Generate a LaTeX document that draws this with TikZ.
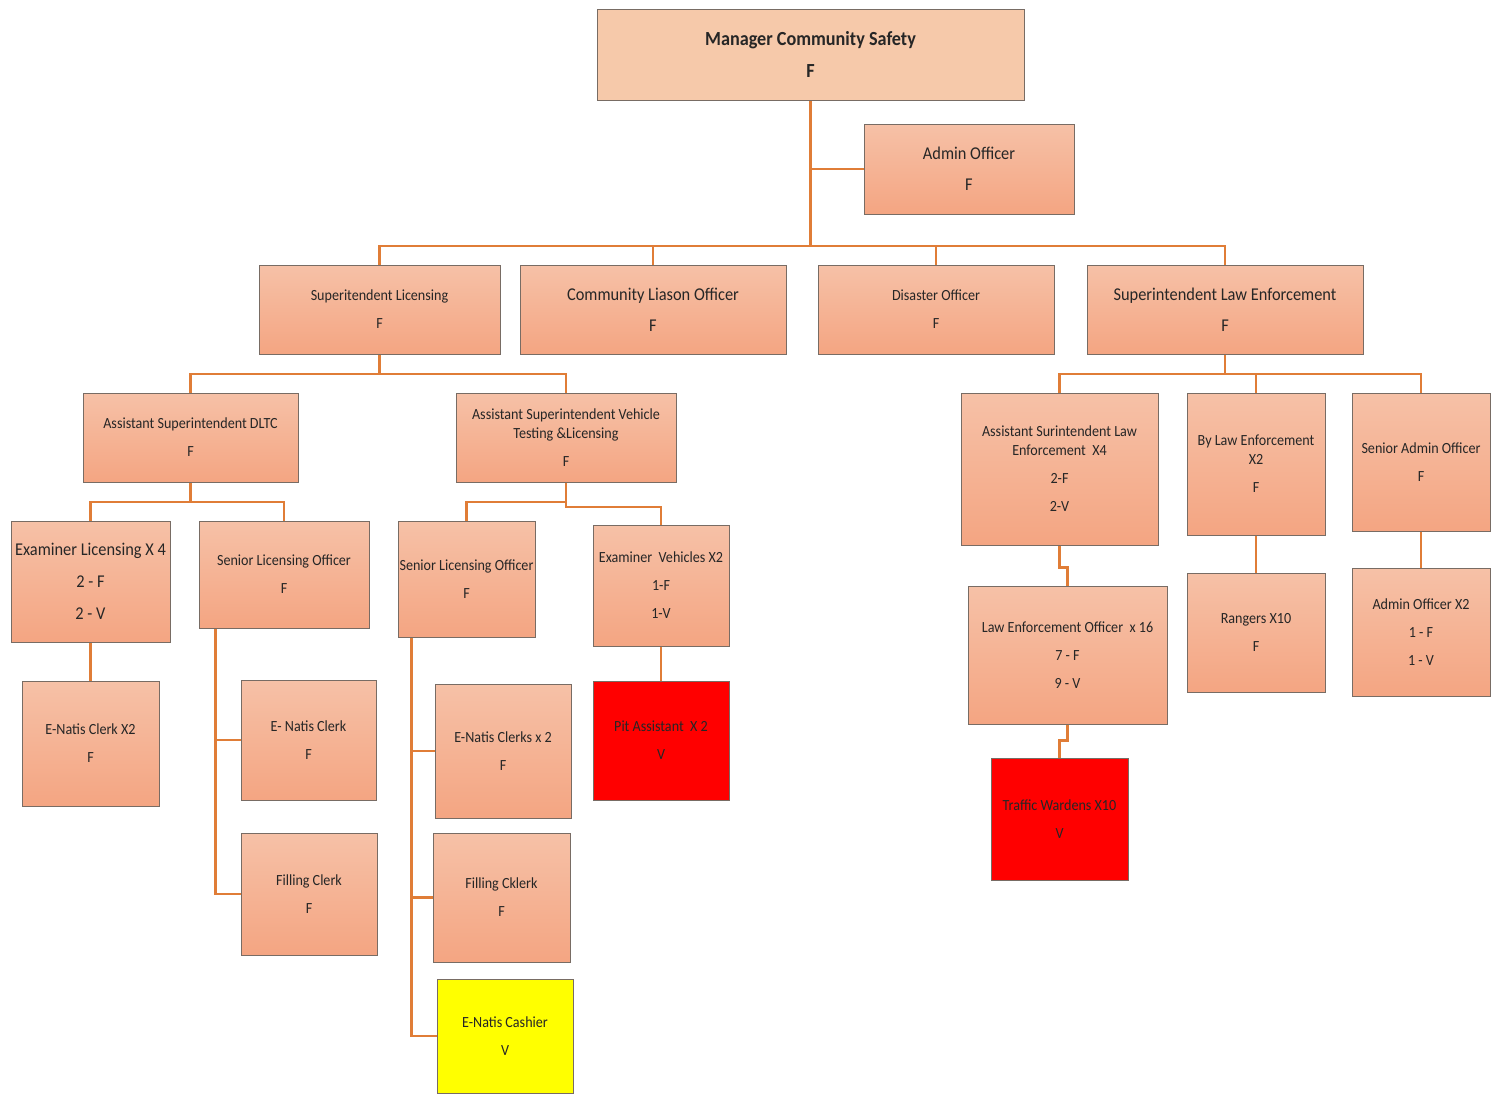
\documentclass[tikz,border=0pt]{standalone}
\usepackage{fontspec}
\setmainfont{Carlito}[FakeStretch=0.91]
\definecolor{boxtop}{RGB}{246,193,167}
\definecolor{boxbot}{RGB}{244,165,130}
\definecolor{mgrfill}{RGB}{246,201,170}
\definecolor{boxline}{RGB}{120,108,100}
\definecolor{linkcol}{RGB}{224,125,55}
\definecolor{txt}{RGB}{38,38,38}
\tikzset{
    post/.style={draw=boxline, line width=1pt, top color=boxtop, bottom color=boxbot,
        align=center, text=txt, inner sep=1pt, font=\fontsize{15.5}{20}\selectfont},
    bigpost/.style={post, font=\fontsize{18}{22}\selectfont},
    redpost/.style={post, fill=red, top color=red, bottom color=red},
    yelpost/.style={post, fill=yellow, top color=yellow, bottom color=yellow},
    boxsize/.style 2 args={minimum width=#1pt, minimum height=#2pt},
    link/.style={draw=linkcol, line width=2.2pt}
}
\begin{document}
\begin{tikzpicture}[x=1pt, y=-1pt]
    \useasboundingbox (0,0) rectangle (1491,1095);
    \node[post, fill=mgrfill, top color=mgrfill, bottom color=mgrfill, boxsize={427}{91},
        font=\fontsize{20}{22}\selectfont\bfseries] (mgr) at (810.5,54.5) {Manager Community Safety\\[10pt]F};
    \node[bigpost, boxsize={210}{90}] (admin) at (969,169) {Admin Officer\\[9pt]F};

    \node[post, boxsize={241}{89}] (supLic) at (379.5,309.5) {Superitendent Licensing\\[8pt]F};
    \node[bigpost, boxsize={266}{89}] (cla) at (653,309.5) {Community Liason Officer\\[9pt]F};
    \node[post, boxsize={236}{89}] (dis) at (936,309.5) {Disaster Officer\\[8pt]F};
    \node[bigpost, boxsize={276}{89}] (supLaw) at (1225,309.5) {Superintendent Law Enforcement\\[9pt]F};

    \node[post, boxsize={215}{89}] (asDLTC) at (190.5,437.5) {Assistant Superintendent DLTC\\[8pt]F};
    \node[post, boxsize={220}{89}] (asVTL) at (566,437.5) {Assistant Superintendent Vehicle\\[-1pt]Testing \&Licensing\\[8pt]F};

    \node[bigpost, boxsize={159}{121}] (exLic) at (90.5,581.5) {Examiner Licensing X 4\\[10pt]2 - F\\[10pt]2 - V};
    \node[post, boxsize={170}{107}] (senLicA) at (284,574.5) {Senior Licensing Officer\\[8pt]F};
    \node[post, boxsize={137}{116}] (senLicB) at (466.5,579) {Senior Licensing Officer\\[8pt]F};
    \node[post, boxsize={136}{121}] (exVeh) at (661,585.5) {Examiner~~Vehicles X2\\[8pt]1-F\\[8pt]1-V};

    \node[post, boxsize={137}{125}] (enc) at (90.5,743.5) {E-Natis Clerk X2\\[8pt]F};
    \node[post, boxsize={135}{120}] (enatisA) at (308.5,740) {E- Natis Clerk\\[8pt]F};
    \node[post, boxsize={136}{122}] (fillA) at (309,894) {Filling Clerk\\[8pt]F};
    \node[post, boxsize={136}{134}] (enatisB) at (503,751) {E-Natis Clerks x 2\\[8pt]F};
    \node[post, boxsize={137}{129}] (fillB) at (501.5,897.5) {Filling Cklerk\\[8pt]F};
    \node[yelpost, boxsize={136}{114}] (cashier) at (505,1036) {E-Natis Cashier\\[8pt]V};
    \node[redpost, boxsize={136}{119}] (pit) at (661,740.5) {Pit Assistant~~X 2\\[8pt]V};

    \node[post, boxsize={197}{152}] (asLaw) at (1059.5,469) {Assistant Surintendent Law\\[-1pt]Enforcement~~X4\\[8pt]2-F\\[8pt]2-V};
    \node[post, boxsize={138}{142}] (byLaw) at (1256,464) {By Law Enforcement\\[-1pt]X2\\[8pt]F};
    \node[post, boxsize={138}{138}] (senAdm) at (1421,462) {Senior Admin Officer\\[8pt]F};
    \node[post, boxsize={199}{138}] (lawOff) at (1067.5,655) {Law Enforcement Officer~~x 16\\[8pt]7 - F\\[8pt]9 - V};
    \node[post, boxsize={138}{119}] (rangers) at (1256,632.5) {Rangers X10\\[8pt]F};
    \node[post, boxsize={138}{128}] (admOff) at (1421,632) {Admin Officer X2\\[8pt]1 - F\\[8pt]1 - V};
    \node[redpost, boxsize={137}{122}] (traffic) at (1059.5,819) {Traffic Wardens X10\\[8pt]V};

    \coordinate (hub) at (810.5,246);
    \coordinate (licBus) at (379.5,374);
    \coordinate (dltcBus) at (190.5,502);
    \coordinate (vtlBus) at (566,502);
    \coordinate (vtlBusR) at (566,507);
    \coordinate (lawBus) at (1225,374);

    \draw[link] (mgr.south) -- (hub);
    \draw[link] (mgr.south |- admin.west) -- (admin.west);
    \draw[link] (supLic.north) |- (hub) -| (supLaw.north);
    \draw[link] (cla.north) -- (cla.north |- hub);
    \draw[link] (dis.north) -- (dis.north |- hub);

    \draw[link] (supLic.south) -- (licBus);
    \draw[link] (asDLTC.north) |- (licBus) -| (asVTL.north);
    \draw[link] (asDLTC.south) -- (dltcBus);
    \draw[link] (exLic.north) |- (dltcBus) -| (senLicA.north);
    \draw[link] (asVTL.south) -- (vtlBusR) -| (exVeh.north);
    \draw[link] (senLicB.north) |- (vtlBus);
    \draw[link] (exLic.south) -- (enc.north);
    \draw[link] ([xshift=17pt]senLicA.south west) |- (fillA.west);
    \draw[link] ([xshift=17pt]senLicA.south west |- enatisA.west) -- (enatisA.west);
    \draw[link] ([xshift=14pt]senLicB.south west) |- (cashier.west);
    \draw[link] ([xshift=14pt]senLicB.south west |- enatisB.west) -- (enatisB.west);
    \draw[link] ([xshift=14pt]senLicB.south west |- fillB.west) -- (fillB.west);
    \draw[link] (exVeh.south) -- (pit.north);

    \draw[link] (supLaw.south) -- (lawBus);
    \draw[link] (asLaw.north) |- (lawBus) -| (senAdm.north);
    \draw[link] (byLaw.north) -- (byLaw.north |- lawBus);
    \draw[link] (asLaw.south) -- ++(0,22) -| (lawOff.north);
    \draw[link] (lawOff.south) -- ++(0,16) -| (traffic.north);
    \draw[link] (byLaw.south) -- (rangers.north);
    \draw[link] (senAdm.south) -- (admOff.north);
\end{tikzpicture}
\end{document}
